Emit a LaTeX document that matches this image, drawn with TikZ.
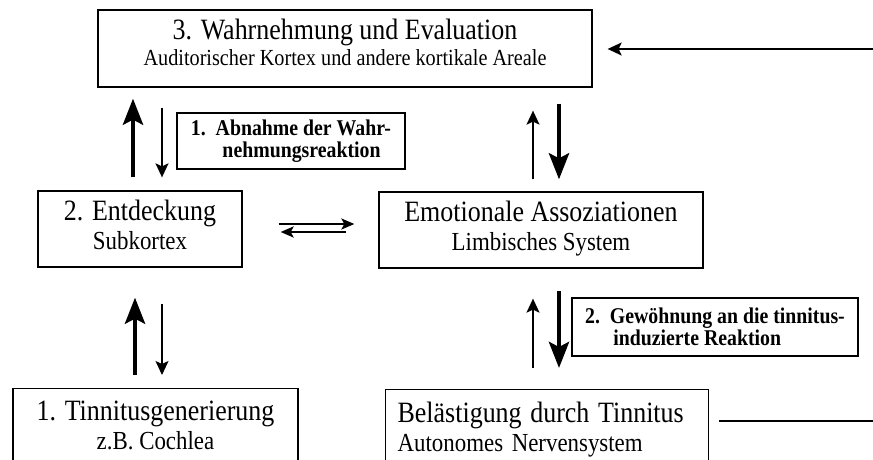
\documentclass[tikz,border=0pt]{standalone}
\usepackage{fontspec}
\setmainfont[FakeStretch=0.88]{Liberation Serif}
\usetikzlibrary{arrows.meta}
\newcommand{\boxtitle}[1]{{\fontsize{29.5}{29}\selectfont #1}}
\newcommand{\lowstrut}[1]{\rule[-#1]{0pt}{#1}}

\begin{document}
\begin{tikzpicture}[x=1pt,y=-1pt,
  box/.style={draw,line width=1.3pt,inner sep=0pt,align=center,font=\fontsize{26}{29}\selectfont},
  lab/.style={draw,line width=1.1pt,inner sep=0pt,align=left,font=\bfseries\fontsize{22.5}{21.5}\selectfont},
  thk/.style={line width=4.5pt,-{Stealth[length=26pt,width=20pt,inset=5pt]}},
  thn/.style={line width=1.6pt,-{Stealth[length=14pt,width=13pt,inset=3pt]}},
  dbl/.style={line width=2.2pt,-{Stealth[length=13pt,width=11pt,inset=3pt]}}]
\clip (0,0) rectangle (873,460);
\node[box,minimum width=494,minimum height=77,font=\fontsize{23}{26}\selectfont] (wahr) at (345,48.5) {\boxtitle{3. Wahrnehmung und Evaluation}\\Auditorischer Kortex und andere kortikale Areale\lowstrut{13pt}};
\node[box,minimum width=204,minimum height=76] (entd) at (140,229) {\boxtitle{2. Entdeckung}\\Subkortex\lowstrut{8pt}};
\node[box,minimum width=324,minimum height=76] (emo) at (541,230) {\boxtitle{Emotionale Assoziationen}\\Limbisches System\lowstrut{9pt}};
\node[box,anchor=north,minimum width=285,inner ysep=12pt,text depth=60pt] (gen) at (155.5,388) {\boxtitle{1. Tinnitusgenerierung}\\z.B. Cochlea};
\node[box,anchor=north west,text width=299pt,inner xsep=12pt,inner ysep=12pt,align=left,text depth=60pt] (bel) at (385,389) {\boxtitle{Belästigung durch Tinnitus}\\Autonomes Nervensystem};
\node[lab,minimum width=228,minimum height=56] (lab1) at (291,141) {1.\ \ Abnahme der Wahr-\\\hspace*{1.4em}nehmungsreaktion};
\node[lab,minimum width=286,minimum height=58] (lab2) at (715,327) {2.\ \ Gewöhnung an die tinnitus-\\\hspace*{1.25em}induzierte Reaktion};
\coordinate (inR) at (873,49);
\coordinate (outR) at (873,421);
\draw[thn,shorten >=15pt] (inR) -- (wahr.east |- inR);
\draw[line width=1.8pt,shorten <=10pt] (bel.east |- outR) -- (outR);
\draw[thk,shorten <=13pt,shorten >=11pt] ([xshift=-7pt]entd.north) -- ([xshift=-7pt]entd.north |- wahr.south);
\draw[thn,shorten <=20pt,shorten >=13pt] ([xshift=22pt]entd.north |- wahr.south) -- ([xshift=22pt]entd.north);
\draw[thn,shorten <=12pt,shorten >=23pt] ([xshift=-8pt]emo.north) -- ([xshift=-8pt]emo.north |- wahr.south);
\draw[thk,shorten <=16pt,shorten >=12pt] ([xshift=18pt]emo.north |- wahr.south) -- ([xshift=18pt]emo.north);
\draw[thk,shorten <=13pt,shorten >=30pt] ([xshift=-5pt]entd.south |- gen.north) -- ([xshift=-5pt]entd.south);
\draw[thn,shorten <=36pt,shorten >=13pt] ([xshift=22pt]entd.south) -- ([xshift=22pt]entd.south |- gen.north);
\draw[thn,shorten <=21pt,shorten >=30pt] ([xshift=-8pt]emo.south |- bel.north) -- ([xshift=-8pt]emo.south);
\draw[thk,shorten <=22pt,shorten >=21pt] ([xshift=18pt]emo.south) -- ([xshift=18pt]emo.south |- bel.north);
\draw[dbl,shorten <=36pt,shorten >=24pt] ([yshift=5pt]entd.east) -- ([yshift=5pt]entd.east -| emo.west);
\draw[dbl,shorten <=32pt,shorten >=38pt] ([yshift=-3pt]entd.east -| emo.west) -- ([yshift=-3pt]entd.east);
\end{tikzpicture}
\end{document}
